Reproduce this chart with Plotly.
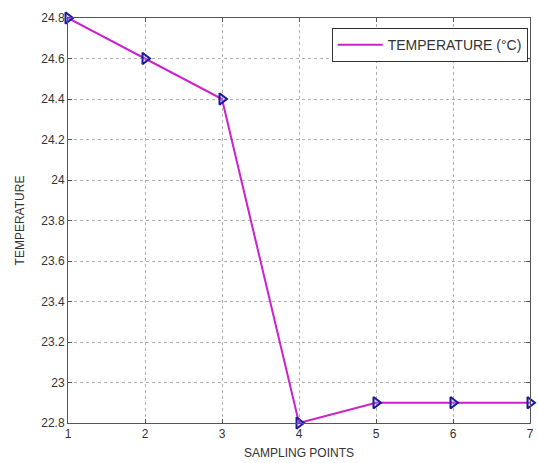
import plotly.graph_objects as go

sampling_points = [1, 2, 3, 4, 5, 6, 7]
temperature = [24.8, 24.6, 24.4, 22.8, 22.9, 22.9, 22.9]
y_ticks = [22.8, 23.0, 23.2, 23.4, 23.6, 23.8, 24.0, 24.2, 24.4, 24.6, 24.8]
y_tick_labels = ["22.8", "23", "23.2", "23.4", "23.6", "23.8", "24", "24.2", "24.4", "24.6", "24.8"]
x_ticks = [1, 2, 3, 4, 5, 6, 7]
series_name = "TEMPERATURE (°C)"

fig = go.Figure()
fig.add_trace(go.Scatter(
    x=sampling_points, y=temperature, mode="lines+markers",
    line=dict(color="#cc22cc", width=2),
    marker=dict(symbol="triangle-right", size=10, color="rgba(150,150,255,0.35)",
                line=dict(color="#1a1a9a", width=2)),
    cliponaxis=False, showlegend=False,
))
fig.add_trace(go.Scatter(
    x=[None], y=[None], mode="lines", name=series_name,
    line=dict(color="#cc22cc", width=2),
))

axis_common = dict(
    showline=True, linecolor="#555555", linewidth=1, mirror="ticks",
    ticks="inside", ticklen=4, tickcolor="#555555",
    showgrid=True, gridcolor="#b0b0b0", griddash="dot", gridwidth=1,
    zeroline=False, tickfont=dict(family="Arial", size=12, color="#333333"),
)
fig.update_xaxes(range=[1, 7], tickvals=x_ticks, **axis_common,
                 title=dict(text="SAMPLING POINTS", font=dict(family="Arial", size=12, color="#333333"),
                            standoff=8))
fig.update_yaxes(range=[22.8, 24.8], tickvals=y_ticks, ticktext=y_tick_labels, **axis_common,
                 title=dict(text="TEMPERATURE", font=dict(family="Arial", size=12, color="#333333"),
                            standoff=14))

fig.update_layout(
    width=538, height=463,
    margin=dict(l=68, r=4, t=18, b=40),
    paper_bgcolor="white", plot_bgcolor="white",
    legend=dict(x=0.995, y=0.975, xanchor="right", yanchor="top",
                bordercolor="#333333", borderwidth=1, bgcolor="white", itemwidth=45,
                font=dict(family="Arial", size=14, color="#333333")),
)
fig.write_html("out.html")
